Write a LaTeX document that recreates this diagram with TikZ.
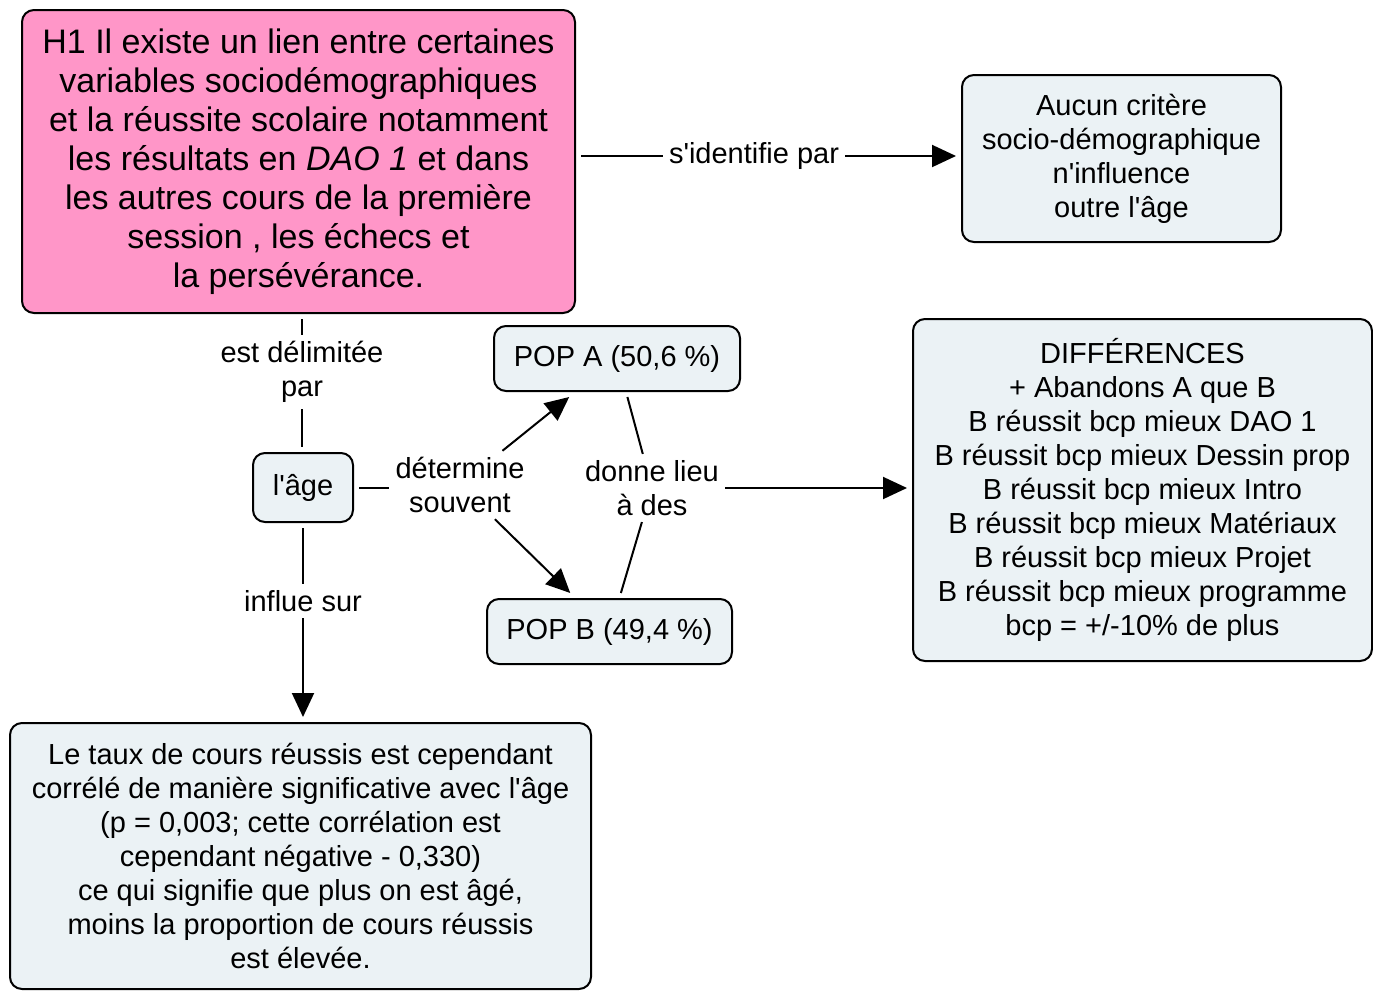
\documentclass[tikz,border=0pt]{standalone}
\usepackage{fontspec}
\setmainfont{Liberation Sans}
\usetikzlibrary{arrows.meta,positioning}
\definecolor{cpink}{RGB}{255,150,200}
\definecolor{cpale}{RGB}{235,242,245}
\newcommand{\apos}{\textquotesingle}

\begin{document}
\begin{tikzpicture}[x=0.5pt,y=-0.5pt,
    main/.style={draw, rounded corners=6pt, line width=1pt, fill=cpale, align=center, font=\fontsize{14.5}{17}\selectfont, inner sep=0pt, outer sep=3pt},
    link/.style={align=center, font=\fontsize{14.5}{17}\selectfont, inner sep=3pt},
    con/.style={line width=1pt},
    arr/.style={con, -{Triangle[length=12pt,width=11pt]}}]
    \useasboundingbox (0,0) rectangle (1373,991);

    \node[main, fill=cpink, minimum width=276.5pt, minimum height=151.5pt, font=\fontsize{17}{19.5}\selectfont] (h1) at (298.5,161.5) {H1 Il existe un lien entre certaines\\variables sociodémographiques\\et la réussite scolaire notamment\\les résultats en \textit{DAO 1} et dans\\les autres cours de la première\\session , les échecs et\\la persévérance.};
    \node[main, minimum width=159.5pt, minimum height=83.5pt] (aucun) at (1121.5,158.5) {Aucun critère\\socio-démographique\\n\apos influence\\outre l\apos âge};
    \node[main, minimum width=50pt, minimum height=34.5pt] (age) at (303,487.5) {l\apos âge};
    \node[main, minimum width=123pt, minimum height=32.5pt] (popa) at (617,358.5) {POP A (50,6 \%)};
    \node[main, minimum width=122.5pt, minimum height=32.5pt] (popb) at (609.5,631.5) {POP B (49,4 \%)};
    \node[main, minimum width=229.5pt, minimum height=171pt] (diff) at (1142.5,490) {DIFFÉRENCES\\+ Abandons A que B\\B réussit bcp mieux DAO 1\\B réussit bcp mieux Dessin prop\\B réussit bcp mieux Intro\\B réussit bcp mieux Matériaux\\B réussit bcp mieux Projet\\B réussit bcp mieux programme\\bcp = +/-10\% de plus};
    \node[main, minimum width=290.5pt, minimum height=133pt] (taux) at (300.5,856) {Le taux de cours réussis est cependant\\corrélé de manière significative avec l\apos âge\\(p = 0,003; cette corrélation est\\cependant négative - 0,330)\\ce qui signifie que plus on est âgé,\\moins la proportion de cours réussis\\est élevée.};

    \node[link] (sid) at (754,156) {s\apos identifie par};
    \node[link] (edp) at (302,372) {est délimitée\\par};
    \node[link] (dts) at (460,485) {détermine\\souvent};
    \node[link] (dli) at (652,488) {donne lieu\\à des};
    \node[link] (inf) at (303,601) {influe sur};

    \draw[con] (h1.east |- sid.west) -- (sid.west);
    \draw[arr] (sid.east) -- (sid.east -| aucun.west);
    \draw[con] (edp.north |- h1.south) -- (edp.north);
    \draw[con] (edp.south) -- (edp.south |- age.north);
    \draw[con] (age.east) -- (age.east -| dts.west);
    \draw[arr] (dts) -- (popa);
    \draw[arr] (dts) -- (popb);
    \draw[con] (popa) -- (dli);
    \draw[con] (dli) -- (popb);
    \draw[arr] (dli.east) -- (dli.east -| diff.west);
    \draw[con] (age.south) -- (age.south -| inf.north) -- (inf.north);
    \draw[arr] (inf.south) -- (inf.south |- taux.north);
\end{tikzpicture}
\end{document}
